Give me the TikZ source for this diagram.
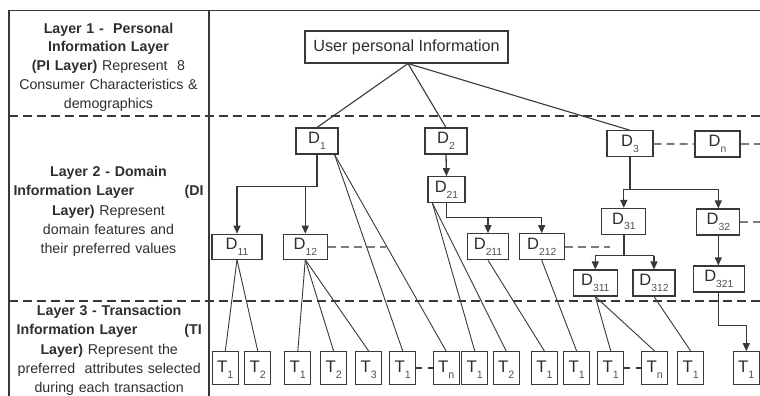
\documentclass[tikz,border=0pt]{standalone}
\usepackage{fontspec}
\setmainfont{Liberation Sans}
\usetikzlibrary{arrows.meta,calc}
\definecolor{ink}{HTML}{383838}
\definecolor{txt}{HTML}{2E2E2E}
\definecolor{subtxt}{HTML}{505050}
\definecolor{dashgray}{HTML}{7C7C7C}
% labels: capital letter with a lowered index
\newcommand\Dlab[1]{{\fontsize{16.5}{16.5}\selectfont D\raisebox{-5.5pt}{\color{subtxt}\fontsize{10.3}{10.3}\selectfont #1}}}
\newcommand\Tlab[1]{{\fontsize{16.8}{16.8}\selectfont T\raisebox{-5.4pt}{\color{subtxt}\fontsize{10.7}{10.7}\selectfont #1}}}
\begin{document}
\begin{tikzpicture}[x=1pt,y=-1pt,
  frame/.style={draw=ink,line width=1.3pt},
  layersep/.style={draw=ink,line width=1.2pt,dash pattern=on 9pt off 5pt},
  layertext/.style={text=txt,align=center,text width=198pt,inner sep=0pt,
    font=\fontsize{14.2}{19.4}\selectfont},
  box/.style={draw=ink,line width=1.1pt,inner sep=0pt,minimum height=26pt,text=txt},
  tbox/.style={box,minimum width=26pt,minimum height=32.5pt,
    text height=15pt,text depth=5.4pt},
  trunk/.style={draw=ink,line width=1.8pt},
  branch/.style={draw=ink,line width=1.3pt},
  arr/.style={branch,-{Triangle[width=7pt,length=8pt]}},
  leaf/.style={draw=ink,line width=0.9pt},
  more/.style={draw=dashgray,line width=1.9pt,dash pattern=on 8pt off 5pt},
  tmore/.style={draw=ink,line width=1.1pt,dash pattern=on 5.5pt off 6pt},
]
\useasboundingbox (0,0) rectangle (760,396);

% frame and layer separators
\draw[frame] (9,396) -- (9,10.7) -- (760,10.7);
\draw[frame] (209,10.7) -- (209,396);
\draw[layersep] (9,116) -- (760,116);
\draw[layersep] (9,301) -- (760,301);

% layer descriptions
\node[layertext,font=\fontsize{14.2}{18.7}\selectfont] (L1) at (108.5,67)
  {\textbf{Layer 1 -\ \ Personal}\\ \textbf{Information Layer}\\
   \textbf{(PI Layer)} Represent\ \ 8\\ Consumer Characteristics \&\\ demographics};
\node[layertext] (L2) at (108.5,211.5)
  {\textbf{Layer 2 - Domain}\\
   \makebox[190pt]{\textbf{Information Layer}\hfill\textbf{(DI}}\\
   \textbf{Layer)} Represent\\ domain features and\\ their preferred values};
\node[layertext,font=\fontsize{14.2}{19.2}\selectfont] (L3) at (109.2,350.4)
  {\textbf{Layer 3 - Transaction}\\
   \makebox[185pt]{\textbf{Information Layer}\hfill\textbf{(TI}}\\
   \textbf{Layer)} Represent the\\ preferred\ \ attributes selected\\ during each transaction};

% personal information root
\node[box,minimum width=203pt,minimum height=32pt,font=\fontsize{16.2}{16.2}\selectfont]
  (user) at (406.5,47) {User personal Information};

% domain nodes
\node[box,minimum width=42pt] (D1)   at (317,141)   {\Dlab{1}};
\node[box,minimum width=42pt] (D2)   at (446,141)   {\Dlab{2}};
\node[box,minimum width=46pt] (D3)   at (630,143.8) {\Dlab{3}};
\node[box,minimum width=45pt] (Dn)   at (717.5,144) {\Dlab{n}};
\node[box,minimum width=37pt] (D21)  at (446.5,189.7) {\Dlab{21}};
\node[box,minimum width=50pt,minimum height=25pt] (D11) at (237,246.7) {\Dlab{11}};
\node[box,minimum width=44pt,minimum height=25pt] (D12) at (305.3,246.7) {\Dlab{12}};
\node[box,minimum width=41pt] (D211) at (488,246.7) {\Dlab{211}};
\node[box,minimum width=45pt] (D212) at (541.7,246.7) {\Dlab{212}};
\node[box,minimum width=44pt] (D31)  at (623.8,221.5) {\Dlab{31}};
\node[box,minimum width=43pt] (D32)  at (718.3,222) {\Dlab{32}};
\node[box,minimum width=44pt] (D311) at (595.3,283) {\Dlab{311}};
\node[box,minimum width=42pt] (D312) at (654,283) {\Dlab{312}};
\node[box,minimum width=51pt] (D321) at (718.8,279) {\Dlab{321}};

% transaction nodes
\node[tbox] (Ta1) at (225.3,368) {\Tlab{1}};
\node[tbox] (Ta2) at (257.8,368) {\Tlab{2}};
\node[tbox] (Tb1) at (297.8,368) {\Tlab{1}};
\node[tbox] (Tb2) at (333.7,368) {\Tlab{2}};
\node[tbox] (Tb3) at (368.8,368) {\Tlab{3}};
\node[tbox] (Tc1) at (402.8,368) {\Tlab{1}};
\node[tbox] (Tcn) at (446.2,368) {\Tlab{n}};
\node[tbox] (Td1) at (474.8,368) {\Tlab{1}};
\node[tbox] (Td2) at (506.3,368) {\Tlab{2}};
\node[tbox] (Te1) at (544.5,368) {\Tlab{1}};
\node[tbox] (Tf1) at (576.7,368) {\Tlab{1}};
\node[tbox] (Tg1) at (610.8,368) {\Tlab{1}};
\node[tbox] (Tgn) at (654.8,368) {\Tlab{n}};
\node[tbox] (Th1) at (690.8,368) {\Tlab{1}};
\node[tbox] (Ti1) at (746.3,368) {\Tlab{1}};

% root to first-level domains
\coordinate (uhub) at ($(user.south)+(1.5,0)$);
\draw[leaf,line width=1.1pt] (uhub) -- (D1.north);
\draw[leaf,line width=1.1pt] (uhub) -- (D2.north);
\draw[leaf,line width=1.1pt] (uhub) -- (D3.north);

% D1 subtree
\coordinate (b1) at ($(D1.south)+(0,32)$);
\draw[trunk] (D1.south) -- (b1);
\draw[arr] (b1) -| (D11.north);
\draw[arr] (b1 -| D12.north) -- (D12.north);

% D2 subtree
\draw[arr] (D2.south) -- (D21.north);
\coordinate (b21) at ($(D21.south)+(0,14.3)$);
\draw[branch] (D21.south) -- (b21);
\draw[arr] (b21) -| (D212.north);
\draw[arr] (b21 -| D211.north) -- (D211.north);

% D3 subtree
\coordinate (b3) at ($(D3.south)+(0,32)$);
\draw[trunk] (D3.south) -- (b3);
\draw[branch] (b3 -| D31.north) -- (b3 -| D32.north);
\draw[arr] (b3 -| D31.north) -- (D31.north);
\draw[arr] (b3 -| D32.north) -- (D32.north);
\coordinate (b31) at ($(D31.south)+(0,20.7)$);
\draw[trunk] (D31.south) -- (b31);
\draw[branch] (b31 -| D311.north) -- (b31 -| D312.north);
\draw[arr] (b31 -| D311.north) -- (D311.north);
\draw[arr] (b31 -| D312.north) -- (D312.north);
\draw[arr] (D32.south) -- (D32.south |- D321.north);
\coordinate (b321) at ($(D321.south)+(0,33)$);
\draw[branch] (D321.south) -- (b321);
\draw[arr] (b321) -| (Ti1.north);

% continuation marks
\coordinate (endDn) at (760,144);
\coordinate (endD12) at (386,246.7);
\coordinate (endD212) at (610,246.7);
\coordinate (endD32) at (760,222);
\draw[more] (D3.east) -- (Dn.west);
\draw[more] (Dn.east) -- (endDn);
\draw[more] (D12.east) -- (endD12);
\draw[more] (D212.east) -- (endD212);
\draw[more] (D32.east) -- (endD32);
\draw[tmore] (Tc1.east) -- (Tcn.west);
\draw[tmore] (Tg1.east) -- (Tgn.west);

% domain values to transaction attributes
\coordinate (d1out) at ($(D1.south east)+(-4,0)$);
\coordinate (d21out) at ($(D21.south west)+(5,0)$);
\draw[leaf] (D11.south) -- (Ta1.north);
\draw[leaf] (D11.south) -- (Ta2.north);
\draw[leaf] (D12.south) -- (Tb1.north);
\draw[leaf] (D12.south) -- (Tb2.north);
\draw[leaf] (D12.south) -- (Tb3.north);
\draw[leaf] (d1out) -- (Tc1.north);
\draw[leaf] (d1out) -- (Tcn.north);
\draw[leaf] (d21out) -- (Td1.north);
\draw[leaf] (d21out) -- (Td2.north);
\draw[leaf] (D211.south) -- (Te1.north);
\draw[leaf] (D212.south) -- (Tf1.north);
\draw[leaf] (D311.south) -- (Tg1.north);
\draw[leaf] (D311.south) -- (Tgn.north);
\draw[leaf] (D312.south) -- (Th1.north);
\end{tikzpicture}
\end{document}
